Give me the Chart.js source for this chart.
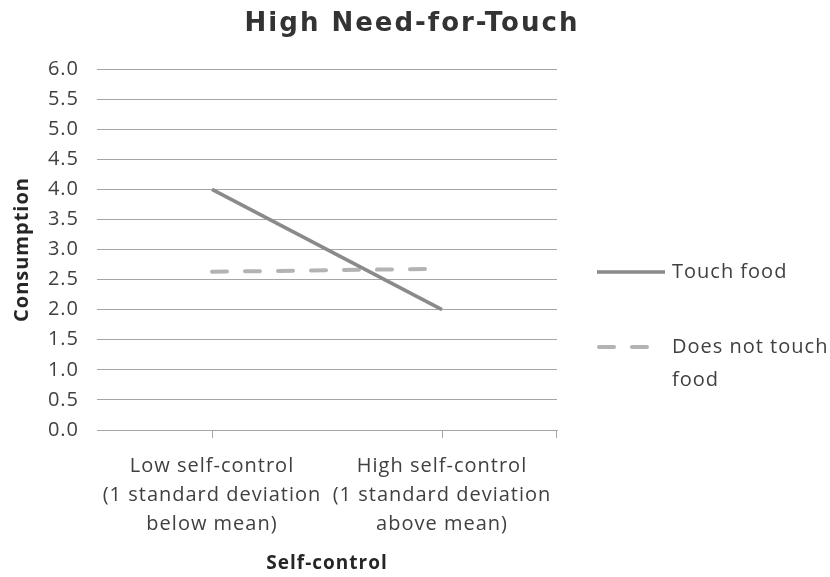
<!DOCTYPE html>
<html>
<head>
<meta charset="utf-8">
<script src="https://cdn.jsdelivr.net/npm/chart.js@4.4.0/dist/chart.umd.min.js"></script>
<style>
html,body{margin:0;padding:0;background:#fff;}
#wrap{width:830px;height:577px;position:relative;}
</style>
</head>
<body>
<div id="wrap"><canvas id="c" width="830" height="577"></canvas></div>
<script>
const chartTitle = "High Need-for-Touch";
const categories = [
  ["Low self-control", "(1 standard deviation", "below mean)"],
  ["High self-control", "(1 standard deviation", "above mean)"]
];
const seriesNames = [["Touch food"], ["Does not touch", "food"]];
const touchFood = [4.0, 2.0];
const doesNotTouchFood = [2.63, 2.68];
const yMin = 0, yMax = 6, yStep = 0.5;
const xAxisTitle = "Self-control";
const yAxisTitle = "Consumption";

const TXT = "#404040";
const FONT = "'Open Sans', 'Noto Sans', sans-serif";

const spacingPlugin = {
  id: "spacing",
  beforeDraw(chart) {
    if ("letterSpacing" in chart.ctx) chart.ctx.letterSpacing = "1px";
  }
};

const titlePlugin = {
  id: "bigTitle",
  afterDraw(chart) {
    const ctx = chart.ctx;
    ctx.save();
    if ("letterSpacing" in ctx) ctx.letterSpacing = "2px";
    ctx.fillStyle = "#333333";
    ctx.font = "bold 26px 'DejaVu Sans', sans-serif";
    ctx.textAlign = "center";
    ctx.textBaseline = "alphabetic";
    ctx.fillText(chartTitle, 412, 31);
    ctx.restore();
  }
};

const legendPlugin = {
  id: "sideLegend",
  afterDraw(chart) {
    const ctx = chart.ctx;
    const ca = chart.chartArea;
    const x0 = ca.right + 40, lineLen = 68, textX = ca.right + 115;
    const ys = [272, 347];
    ctx.save();
    if ("letterSpacing" in ctx) ctx.letterSpacing = "1px";
    chart.data.datasets.forEach((ds, i) => {
      const y = ys[i];
      ctx.beginPath();
      ctx.strokeStyle = ds.borderColor;
      ctx.lineWidth = ds.borderWidth;
      ctx.lineCap = ds.borderCapStyle || "butt";
      ctx.setLineDash(ds.borderDash || []);
      ctx.moveTo(x0 + (ds.borderDash ? 2 : 0), y);
      ctx.lineTo(x0 + (ds.borderDash ? 52 : lineLen), y);
      ctx.stroke();
      ctx.setLineDash([]);
      ctx.fillStyle = TXT;
      ctx.font = "20px " + FONT;
      ctx.textBaseline = "middle";
      ctx.textAlign = "left";
      seriesNames[i].forEach((t, j) => ctx.fillText(t, textX, y + j * 33));
    });
    ctx.restore();
  }
};

const endTickPlugin = {
  id: "endTick",
  afterDatasetsDraw(chart) {
    const ctx = chart.ctx, ca = chart.chartArea;
    ctx.save();
    ctx.strokeStyle = "#a6a6a6";
    ctx.lineWidth = 1;
    ctx.beginPath();
    ctx.moveTo(Math.round(ca.right) - 0.5, ca.bottom);
    ctx.lineTo(Math.round(ca.right) - 0.5, ca.bottom + 8);
    ctx.stroke();
    ctx.restore();
  }
};

new Chart(document.getElementById("c"), {
  type: "line",
  data: {
    labels: categories,
    datasets: [
      {
        label: seriesNames[0].join(" "),
        data: touchFood,
        borderColor: "#8a8a8a",
        borderWidth: 3.5,
        pointRadius: 0,
        tension: 0,
        borderCapStyle: "butt"
      },
      {
        label: seriesNames[1].join(" "),
        data: doesNotTouchFood,
        borderColor: "#b3b3b3",
        borderWidth: 4,
        borderDash: [15, 18],
        borderCapStyle: "round",
        pointRadius: 0,
        tension: 0
      }
    ]
  },
  options: {
    responsive: false,
    animation: false,
    devicePixelRatio: 1,
    layout: { padding: { left: 0, right: 273, top: 69, bottom: 0 } },
    plugins: {
      legend: { display: false },
      tooltip: { enabled: false },
      title: { display: false }
    },
    scales: {
      x: {
        offset: true,
        afterFit(scale) { scale.height = 147; },
        grid: {
          offset: false,
          drawOnChartArea: false,
          drawTicks: true,
          tickLength: 8,
          color: "#a6a6a6"
        },
        border: { display: true, color: "#a6a6a6", width: 1 },
        ticks: {
          color: TXT,
          font: { family: FONT, size: 20, lineHeight: 1.45 },
          padding: 14,
          maxRotation: 0,
          autoSkip: false
        },
        title: {
          display: true,
          text: xAxisTitle,
          color: "#262626",
          font: { family: FONT, size: 19, weight: "bold" },
          padding: { top: 0, bottom: 2 }
        }
      },
      y: {
        min: yMin,
        max: yMax,
        afterFit(scale) { scale.width = 97; },
        ticks: {
          stepSize: yStep,
          color: TXT,
          font: { family: FONT, size: 20 },
          padding: 18,
          callback: v => Number(v).toFixed(1)
        },
        grid: { color: "#a6a6a6", lineWidth: 1, drawTicks: false },
        border: { display: false },
        title: {
          display: true,
          text: yAxisTitle,
          color: "#262626",
          font: { family: FONT, size: 20, weight: "bold" },
          padding: { top: 10, bottom: 0 }
        }
      }
    }
  },
  plugins: [spacingPlugin, titlePlugin, legendPlugin, endTickPlugin]
});
</script>
</body>
</html>
